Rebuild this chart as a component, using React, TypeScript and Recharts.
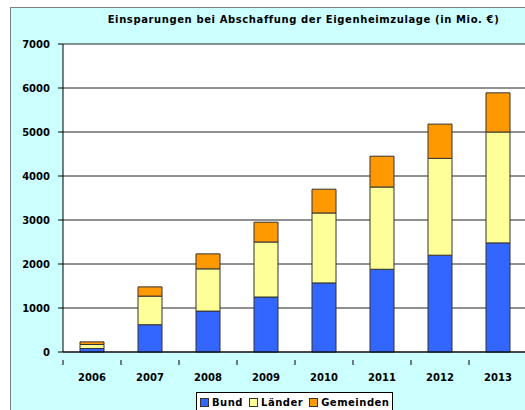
import { BarChart, Bar, XAxis, YAxis, CartesianGrid } from 'recharts';

const YEARS = ['2006', '2007', '2008', '2009', '2010', '2011', '2012', '2013'];
const BUND = [80, 620, 930, 1250, 1570, 1880, 2200, 2480];
const LAENDER = [90, 650, 960, 1250, 1590, 1870, 2200, 2520];
const GEMEINDEN = [60, 210, 340, 450, 540, 700, 780, 890];
const Y_TICKS = [0, 1000, 2000, 3000, 4000, 5000, 6000, 7000];

const SERIES = [
  { key: 'bund', name: 'Bund', color: '#3366ff' },
  { key: 'laender', name: 'Länder', color: '#ffff99' },
  { key: 'gemeinden', name: 'Gemeinden', color: '#ff9900' },
];

const data = YEARS.map((year, i) => ({
  year,
  bund: BUND[i],
  laender: LAENDER[i],
  gemeinden: GEMEINDEN[i],
}));

const FONT = '"DejaVu Sans", Verdana, sans-serif';
const CAT_W = 58;

function YearTick(props: any) {
  const { x, y, payload, index } = props;
  const half = CAT_W / 2;
  return (
    <g>
      <line x1={x - half} x2={x - half} y1={y} y2={y + 5} stroke="#000" />
      {index === YEARS.length - 1 && <line x1={x + half} x2={x + half} y1={y} y2={y + 5} stroke="#000" />}
      <text x={x} y={y + 21} textAnchor="middle" fontFamily={FONT} fontSize={10} fontWeight="bold" fill="#000">
        {payload.value}
      </text>
    </g>
  );
}

export default function App() {
  return (
    <div
      style={{
        position: 'fixed',
        left: 10,
        top: 7,
        width: 515,
        height: 403,
        overflow: 'hidden',
        background: '#ccffff',
        borderLeft: '1px solid #808080',
        borderTop: '1px solid #808080',
        boxSizing: 'border-box',
      }}
    >
      <div
        style={{
          position: 'absolute',
          left: 0,
          width: 585,
          top: 6,
          textAlign: 'center',
          fontFamily: FONT,
          fontSize: 10,
          fontWeight: 'bold',
          letterSpacing: 0.6,
        }}
      >
        Einsparungen bei Abschaffung der Eigenheimzulage (in Mio. €)
      </div>
      <div style={{ position: 'absolute', left: -1, top: -1 }}>
        <BarChart width={540} height={420} data={data} margin={{ top: 37, right: 23, bottom: 35, left: 0 }}>
          <CartesianGrid vertical={false} stroke="#222" fill="#fff" />
          <XAxis
            dataKey="year"
            axisLine={{ stroke: '#000' }}
            tickLine={false}
            tick={<YearTick />}
            interval={0}
            height={40}
          />
          <YAxis
            domain={[0, 7000]}
            ticks={Y_TICKS}
            width={53}
            axisLine={{ stroke: '#000' }}
            tickLine={{ stroke: '#000' }}
            tickSize={5}
            tickMargin={8}
            tick={{ fontFamily: FONT, fontSize: 10, fontWeight: 'bold', fill: '#000' }}
          />
          {SERIES.map((s) => (
            <Bar
              key={s.key}
              dataKey={s.key}
              name={s.name}
              stackId="a"
              fill={s.color}
              stroke="#333"
              strokeWidth={1}
              barSize={24}
              isAnimationActive={false}
            />
          ))}
        </BarChart>
      </div>
      <div
        style={{
          position: 'absolute',
          left: 185,
          top: 384,
          width: 197,
          height: 30,
          background: '#fff',
          border: '1px solid #000',
          boxSizing: 'border-box',
          display: 'flex',
          alignItems: 'flex-start',
          paddingTop: 4,
          paddingLeft: 3,
          gap: 6,
          fontFamily: FONT,
          fontSize: 10,
          fontWeight: 'bold',
          letterSpacing: 0.5,
        }}
      >
        {SERIES.map((s) => (
          <span key={s.key} style={{ display: 'flex', alignItems: 'center', gap: 3 }}>
            <span style={{ width: 7, height: 7, background: s.color, border: '1px solid #333', display: 'inline-block' }} />
            {s.name}
          </span>
        ))}
      </div>
    </div>
  );
}
